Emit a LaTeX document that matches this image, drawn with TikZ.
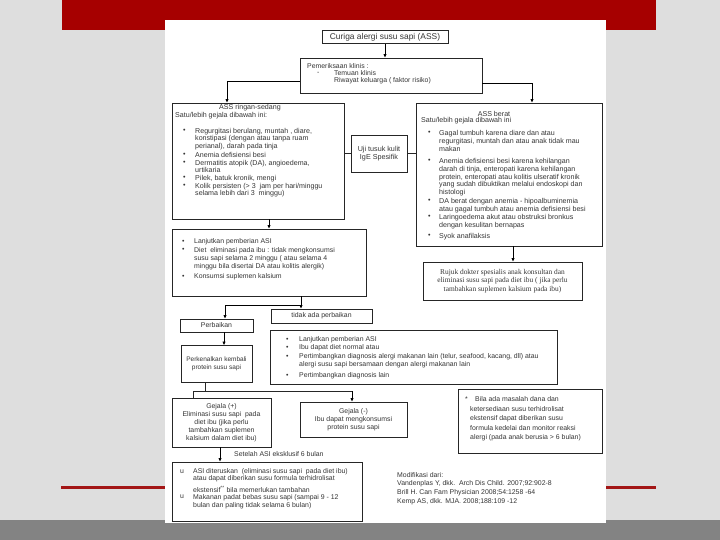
\documentclass[tikz,border=0pt]{standalone}
\usepackage{fontspec}
\setmainfont{Liberation Sans}
\newfontfamily\serifrm{Liberation Serif}
\usetikzlibrary{arrows.meta}
\definecolor{bg}{HTML}{DEDEDE}
\definecolor{redbar}{HTML}{A60000}
\definecolor{redline}{HTML}{A31616}
\definecolor{strip}{HTML}{838383}
\definecolor{ink}{HTML}{353535}
\begin{document}
\begin{tikzpicture}[x=1pt,y=-1pt,
  box/.style={draw=black!85, line width=0.6pt, inner sep=0pt, rectangle, text=ink, align=center},
  arr/.style={draw=black, line width=0.8pt, -{Latex[length=3.6pt,width=3.4pt]}},
  ln/.style={draw=black!85, line width=0.6pt},
  fA/.style={font=\fontsize{6.9}{8.3}\selectfont},
  fR/.style={font=\fontsize{7.1}{7.7}\selectfont},
  fB/.style={font=\fontsize{7.1}{7.9}\selectfont},
  tx/.style={anchor=west, inner sep=0pt, text=ink},
  tn/.style={anchor=north west, inner sep=0pt, text=ink, align=left}]
% background
\useasboundingbox (0,0) rectangle (720,540);
\fill[bg] (0,0) rectangle (720,540);
\fill[redbar] (62,0) rectangle (656,30);
\fill[strip] (0,520) rectangle (720,540);
\draw[redline, line width=3pt] (61,487) -- (656,487);
\fill[white] (165,20) rectangle (606,523);

% ---- boxes ----
\node[box, minimum width=126pt, minimum height=13pt, font=\fontsize{8.4}{9}\selectfont] (curiga) at (385,37) {Curiga alergi susu sapi (ASS)};
\node[box, minimum width=182pt, minimum height=35pt] (klinis) at (391,75.5) {};
\node[box, minimum width=172pt, minimum height=116pt] (ringan) at (258,161) {};
\node[box, minimum width=56pt, minimum height=37pt, font=\fontsize{7.2}{8}\selectfont] (uji) at (379,153.5) {Uji tusuk kulit\\IgE Spesifik};
\node[box, minimum width=186pt, minimum height=143pt] (berat) at (509,174.5) {};
\node[box, minimum width=194pt, minimum height=67pt] (lanjut) at (269,262.5) {};
\node[box, minimum width=159pt, minimum height=38pt, font=\serifrm\fontsize{7.4}{8.6}\selectfont] (rujuk) at (502.5,281) {Rujuk dokter spesialis anak konsultan dan\\eliminasi susu sapi pada diet ibu ( jika perlu\\tambahkan suplemen kalsium pada ibu)};
\node[box, minimum width=101pt, minimum height=14pt, fA] (tidak) at (321.5,316) {tidak ada perbaikan};
\node[box, minimum width=73pt, minimum height=13pt, fA] (baik) at (216.5,325.5) {Perbaikan};
\node[box, minimum width=287pt, minimum height=54pt] (lain) at (413.5,357) {};
\node[box, minimum width=71pt, minimum height=37pt, font=\fontsize{6.5}{8}\selectfont] (kenal) at (216.5,364) {Perkenalkan kembali\\protein susu sapi};
\node[box, minimum width=99pt, minimum height=49pt, font=\fontsize{6.9}{8.1}\selectfont] (gplus) at (221.5,422.5) {Gejala (+)\\Eliminasi susu sapi\ \ pada\\diet ibu (jika perlu\\tambahkan suplemen\\kalsium dalam diet ibu)};
\node[box, minimum width=107pt, minimum height=35pt, font=\fontsize{6.9}{8}\selectfont] (gmin) at (353.5,419.5) {Gejala (-)\\Ibu dapat mengkonsumsi\\protein susu sapi};
\node[box, minimum width=144pt, minimum height=64pt] (catatan) at (530,421) {};
\node[box, minimum width=190pt, minimum height=59pt] (akhir) at (267,491.5) {};

% ---- texts: klinis ----
\node[tx, fA] at (307,66.5) {Pemeriksaan klinis :};
\node[tx, fA] at (317,73.5) {-};
\node[tx, fA] at (334,73.5) {Temuan klinis};
\node[tx, fA] at (334,81) {Riwayat keluarga ( faktor risiko)};

% ---- ringan ----
\node[inner sep=0pt, text=ink, fR] at (250,108) {ASS ringan-sedang};
\node[tx, fR] at (175,115.5) {Satu/lebih gejala dibawah ini:};
\foreach \y in {131,155,163,178,186} \node[tx, fR] at (183,\y) {•};
\node[tn, fR] at (195,127.9) {Regurgitasi berulang, muntah , diare,\\konstipasi (dengan atau tanpa ruam\\perianal), darah pada tinja};
\node[tn, fR] at (195,151.9) {Anemia defisiensi besi};
\node[tn, fR] at (195,159.9) {Dermatitis atopik (DA), angioedema,\\urtikaria};
\node[tn, fR] at (195,174.9) {Pilek, batuk kronik, mengi};
\node[tn, fR] at (195,182.9) {Kolik persisten (> 3\ \ jam per hari/minggu\\selama lebih dari 3\ \ minggu)};

% ---- berat ----
\node[inner sep=0pt, text=ink, fB] at (494,113.5) {ASS berat};
\node[tx, fB] at (421,121) {Satu/lebih gejala dibawah ini};
\foreach \y in {133,161,201,217,236} \node[tx, fB] at (428,\y) {•};
\node[tn, fB] at (439,129.9) {Gagal tumbuh karena diare dan atau\\regurgitasi, muntah dan atau anak tidak mau\\makan};
\node[tn, fB] at (439,157.9) {Anemia defisiensi besi karena kehilangan\\darah di tinja, enteropati karena kehilangan\\protein, enteropati atau kolitis ulseratif kronik\\yang sudah dibuktikan melalui endoskopi dan\\histologi};
\node[tn, fB] at (439,197.9) {DA berat dengan anemia - hipoalbuminemia\\atau gagal tumbuh atau anemia defisiensi besi};
\node[tn, fB] at (439,213.9) {Laringoedema akut atau obstruksi bronkus\\dengan kesulitan bernapas};
\node[tn, fB] at (439,232.9) {Syok anafilaksis};

% ---- lanjut ----
\foreach \y in {242,250,277} \node[tx, fA] at (182,\y) {•};
\node[tx, fA] at (194,242) {Lanjutkan pemberian ASI};
\node[tn, fA] at (194,246.9) {Diet\ \ eliminasi pada ibu : tidak mengkonsumsi\\susu sapi selama 2 minggu ( atau selama 4\\minggu bila disertai DA atau kolitis alergik)};
\node[tx, fA] at (194,277) {Konsumsi suplemen kalsium};

% ---- lain ----
\foreach \y in {339.5,347.5,356.5,375.5} \node[tx, fA] at (286,\y) {•};
\node[tx, fA] at (299,339.5) {Lanjutkan pemberian ASI};
\node[tx, fA] at (299,347.5) {Ibu dapat diet normal atau};
\node[tx, fA] at (299,356.5) {Pertimbangkan diagnosis alergi makanan lain (telur, seafood, kacang, dll) atau};
\node[tx, fA] at (299,365) {alergi susu sapi bersamaan dengan alergi makanan lain};
\node[tx, fA] at (299,375.5) {Pertimbangkan diagnosis lain};

% ---- catatan ----
\node[tx, fA] at (465,399) {*};
\node[tx, fA] at (475,399.5) {Bila ada masalah dana dan};
\node[tn, font=\fontsize{6.9}{9.4}\selectfont] at (470,406.2) {ketersediaan susu terhidrolisat\\ekstensif dapat diberikan susu\\formula kedelai dan monitor reaksi\\alergi (pada anak berusia > 6 bulan)};

% ---- akhir ----
\node[tx, fA] at (180,472) {u};
\node[tx, fA] at (180,497) {u};
\node[tx, fA] at (193,471.5) {ASI diteruskan\ \ (eliminasi susu sapi\ \ pada diet ibu)};
\node[tx, fA] at (193,479) {atau dapat diberikan susu formula terhidrolisat};
\node[tx, fA] at (193,489) {ekstensif\textsuperscript{**} bila memerlukan tambahan};
\node[tx, fA] at (193,497.5) {Makanan padat bebas susu sapi (sampai 9 - 12};
\node[tx, fA] at (193,505.5) {bulan dan paling tidak selama 6 bulan)};

% ---- references & label ----
\node[tx, fA] at (397,475) {Modifikasi dari:};
\node[tx, fA] at (397,484) {Vandenplas Y, dkk.\ \ Arch Dis Child. 2007;92:902-8};
\node[tx, fA] at (397,493) {Brill H. Can Fam Physician 2008;54:1258 -64};
\node[tx, fA] at (397,502) {Kemp AS, dkk. MJA. 2008;188:109 -12};
\node[tx, fA] (label6) at (234,454.5) {Setelah ASI eksklusif 6 bulan};

% ---- connectors ----
\coordinate (kl) at (227,81);
\coordinate (kr) at (532,83);
\coordinate (lb) at (301,305);
\coordinate (lbl) at (225,305);
\coordinate (kb) at (205,391);
\coordinate (kbl) at (193,391);
\coordinate (kbr) at (352,391);
\coordinate (rj) at (513,246);
\coordinate (pk) at (224,333);

\draw[arr] (curiga.south) -- (curiga.south |- klinis.north);
\draw[arr] (klinis.west |- kl) -- (kl) -- (kl |- ringan.north);
\draw[arr] (klinis.east |- kr) -- (kr) -- (kr |- berat.north);
\draw[ln] (ringan.east |- uji.west) -- (uji.west);
\draw[ln] (uji.east) -- (uji.east -| berat.west);
\draw[arr] (lanjut.north |- ringan.south) -- (lanjut.north);
\draw[arr] (rj |- berat.south) -- (rj |- rujuk.north);
\draw[arr] (lb |- lanjut.south) -- (lb |- tidak.north);
\draw[arr] (lb) -- (lbl) -- (lbl |- baik.north);
\draw[arr] (pk |- baik.south) -- (pk |- kenal.north);
\draw[ln] (kb |- kenal.south) -- (kb);
\draw[ln] (kbl) -- (kbr);
\draw[ln] (kbl) -- (kbl |- gplus.north);
\draw[arr] (kbr) -- (kbr |- gmin.north);
\draw[arr] ([xshift=-1.5pt]gplus.south) -- ([xshift=-1.5pt]gplus.south |- akhir.north);
\end{tikzpicture}
\end{document}
